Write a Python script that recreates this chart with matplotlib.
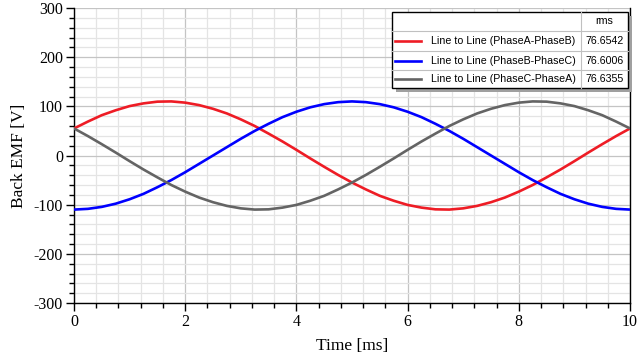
import matplotlib
matplotlib.use("Agg")
import matplotlib.pyplot as plt
from matplotlib.ticker import MultipleLocator
from matplotlib.patches import Rectangle

plt.rcParams["axes.unicode_minus"] = False

time_ms = [0.0, 0.25, 0.5, 0.75, 1.0, 1.25, 1.5, 1.75, 2.0, 2.25, 2.5, 2.75, 3.0, 3.25,
           3.5, 3.75, 4.0, 4.25, 4.5, 4.75, 5.0, 5.25, 5.5, 5.75, 6.0, 6.25, 6.5, 6.75,
           7.0, 7.25, 7.5, 7.75, 8.0, 8.25, 8.5, 8.75, 9.0, 9.25, 9.5, 9.75, 10.0]
phase_ab = [55, 69, 82, 92, 100.5, 106, 109.5, 110, 107.5, 102.5, 95, 85.5, 73.5, 60,
            44.5, 28.5, 11.5, -6, -23, -39.5, -55, -69, -82, -92, -100.5, -106, -109.5,
            -110, -107.5, -102.5, -95, -85.5, -73.5, -60, -44.5, -28.5, -11.5, 6, 23, 39.5, 55]
phase_bc = [-110, -108.5, -104.5, -98, -89, -78, -64.5, -50, -34, -17, 0, 17, 34, 50,
            64.5, 78, 89, 98, 104.5, 108.5, 110, 108.5, 104.5, 98, 89, 78, 64.5, 50,
            34, 17, 0, -17, -34, -50, -64.5, -78, -89, -98, -104.5, -108.5, -110]
phase_ca = [55, 39.5, 23, 6, -11.5, -28.5, -44.5, -60, -73.5, -85.5, -95, -102.5, -107.5, -110,
            -109.5, -106, -100.5, -92, -82, -69, -55, -39.5, -23, -6, 11.5, 28.5, 44.5, 60,
            73.5, 85.5, 95, 102.5, 107.5, 110, 109.5, 106, 100.5, 92, 82, 69, 55]

series_names = ["Line to Line (PhaseA-PhaseB)", "Line to Line (PhaseB-PhaseC)",
                "Line to Line (PhaseC-PhaseA)"]
rms_values = ["76.6542", "76.6006", "76.6355"]
colors = ["#ee1c25", "#0000ff", "#646464"]

W, H = 640, 360
fig = plt.figure(figsize=(6.4, 3.6), dpi=100)
ax = fig.add_axes([74 / W, 1 - 303 / H, (630 - 74) / W, (303 - 8) / H])

for vals, c in zip([phase_ab, phase_bc, phase_ca], colors):
    ax.plot(time_ms, vals, color=c, lw=1.9, solid_capstyle="butt", zorder=3)

ax.set_xlim(0, 10)
ax.set_ylim(-300, 300)
ax.xaxis.set_major_locator(MultipleLocator(2))
ax.xaxis.set_minor_locator(MultipleLocator(0.4))
ax.yaxis.set_major_locator(MultipleLocator(100))
ax.yaxis.set_minor_locator(MultipleLocator(20))
ax.grid(which="major", color="#c4c4c4", lw=0.9, zorder=1)
ax.grid(which="minor", color="#e4e4e4", lw=0.9, zorder=0)
ax.set_axisbelow(True)
for s in ["left", "bottom", "right"]:
    ax.spines[s].set_color("black")
    ax.spines[s].set_linewidth(1.0)
ax.spines["top"].set_visible(False)
ax.tick_params(which="major", direction="out", length=6, width=1, labelsize=11.5,
               labelfontfamily="Liberation Serif", pad=2)
ax.tick_params(which="minor", direction="out", length=3.5, width=1)
ax.tick_params(axis="y", right=False)
ax.set_xlabel("Time [ms]", fontsize=12.5, family="Liberation Serif", labelpad=6)
ax.set_ylabel("Back EMF [V]", fontsize=12.5, family="Liberation Serif", labelpad=5)

# table-like legend in pixel coordinates
def px(x, y):
    return x / W, 1 - y / H

L, T, R, B = 392, 12, 628, 88
shadow = Rectangle(px(L + 4, B + 4), (R - L) / W, (B - T) / H, transform=fig.transFigure,
                   facecolor="#a0a0a0", edgecolor="none", zorder=5)
fig.add_artist(shadow)
box = Rectangle(px(L, B), (R - L) / W, (B - T) / H, transform=fig.transFigure,
                facecolor="white", edgecolor="black", lw=1.0, zorder=6)
fig.add_artist(box)
for yy in [31, 51, 70]:
    fig.add_artist(plt.Line2D([px(L, 0)[0], px(R, 0)[0]], [px(0, yy)[1]] * 2,
                              transform=fig.transFigure, color="#c0c0c0", lw=0.8, zorder=7))
fig.add_artist(plt.Line2D([px(581, 0)[0]] * 2, [px(0, T)[1], px(0, B)[1]],
                          transform=fig.transFigure, color="#c0c0c0", lw=0.8, zorder=7))
fig.text(*px(604, 21.5), "rms", ha="center", va="center", fontsize=7.7,
         family="Liberation Sans", zorder=8)
row_y = [41, 60.5, 79]
for name, val, c, yy in zip(series_names, rms_values, colors, row_y):
    fig.add_artist(plt.Line2D([px(395, 0)[0], px(421, 0)[0]], [px(0, yy)[1]] * 2,
                              transform=fig.transFigure, color=c, lw=1.9, zorder=8))
    fig.text(*px(431, yy), name, ha="left", va="center", fontsize=7.7,
             family="Liberation Sans", zorder=8)
    fig.text(*px(585, yy), val, ha="left", va="center", fontsize=7.7,
             family="Liberation Sans", zorder=8)

fig.savefig("out.png", dpi=100)
